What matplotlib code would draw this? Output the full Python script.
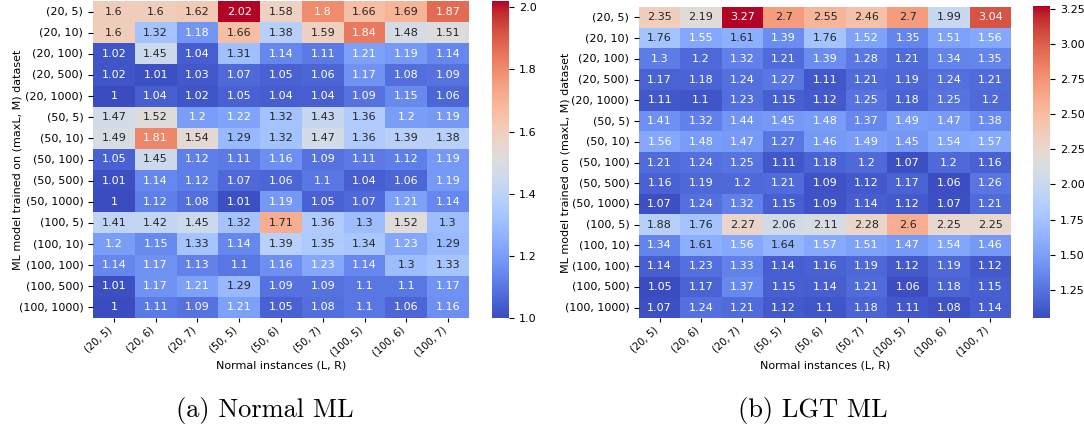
import matplotlib
matplotlib.use("Agg")
import matplotlib.pyplot as plt
import numpy as np
import seaborn as sns

row_labels = ["(20, 5)", "(20, 10)", "(20, 100)", "(20, 500)", "(20, 1000)",
              "(50, 5)", "(50, 10)", "(50, 100)", "(50, 500)", "(50, 1000)",
              "(100, 5)", "(100, 10)", "(100, 100)", "(100, 500)", "(100, 1000)"]
col_labels = ["(20, 5)", "(20, 6)", "(20, 7)", "(50, 5)", "(50, 6)", "(50, 7)",
              "(100, 5)", "(100, 6)", "(100, 7)"]

normal_ml = [
    [1.6, 1.6, 1.62, 2.02, 1.58, 1.8, 1.66, 1.69, 1.87],
    [1.6, 1.32, 1.18, 1.66, 1.38, 1.59, 1.84, 1.48, 1.51],
    [1.02, 1.45, 1.04, 1.31, 1.14, 1.11, 1.21, 1.19, 1.14],
    [1.02, 1.01, 1.03, 1.07, 1.05, 1.06, 1.17, 1.08, 1.09],
    [1.0, 1.04, 1.02, 1.05, 1.04, 1.04, 1.09, 1.15, 1.06],
    [1.47, 1.52, 1.2, 1.22, 1.32, 1.43, 1.36, 1.2, 1.19],
    [1.49, 1.81, 1.54, 1.29, 1.32, 1.47, 1.36, 1.39, 1.38],
    [1.05, 1.45, 1.12, 1.11, 1.16, 1.09, 1.11, 1.12, 1.19],
    [1.01, 1.14, 1.12, 1.07, 1.06, 1.1, 1.04, 1.06, 1.19],
    [1.0, 1.12, 1.08, 1.01, 1.19, 1.05, 1.07, 1.21, 1.14],
    [1.41, 1.42, 1.45, 1.32, 1.71, 1.36, 1.3, 1.52, 1.3],
    [1.2, 1.15, 1.33, 1.14, 1.39, 1.35, 1.34, 1.23, 1.29],
    [1.14, 1.17, 1.13, 1.1, 1.16, 1.23, 1.14, 1.3, 1.33],
    [1.01, 1.17, 1.21, 1.29, 1.09, 1.09, 1.1, 1.1, 1.17],
    [1.0, 1.11, 1.09, 1.21, 1.05, 1.08, 1.1, 1.06, 1.16],
]

lgt_ml = [
    [2.35, 2.19, 3.27, 2.7, 2.55, 2.46, 2.7, 1.99, 3.04],
    [1.76, 1.55, 1.61, 1.39, 1.76, 1.52, 1.35, 1.51, 1.56],
    [1.3, 1.2, 1.32, 1.21, 1.39, 1.28, 1.21, 1.34, 1.35],
    [1.17, 1.18, 1.24, 1.27, 1.11, 1.21, 1.19, 1.24, 1.21],
    [1.11, 1.1, 1.23, 1.15, 1.12, 1.25, 1.18, 1.25, 1.2],
    [1.41, 1.32, 1.44, 1.45, 1.48, 1.37, 1.49, 1.47, 1.38],
    [1.56, 1.48, 1.47, 1.27, 1.46, 1.49, 1.45, 1.54, 1.57],
    [1.21, 1.24, 1.25, 1.11, 1.18, 1.2, 1.07, 1.2, 1.16],
    [1.16, 1.19, 1.2, 1.21, 1.09, 1.12, 1.17, 1.06, 1.26],
    [1.07, 1.24, 1.32, 1.15, 1.09, 1.14, 1.12, 1.07, 1.21],
    [1.88, 1.76, 2.27, 2.06, 2.11, 2.28, 2.6, 2.25, 2.25],
    [1.34, 1.61, 1.56, 1.64, 1.57, 1.51, 1.47, 1.54, 1.46],
    [1.14, 1.23, 1.33, 1.14, 1.16, 1.19, 1.12, 1.19, 1.12],
    [1.05, 1.17, 1.37, 1.15, 1.14, 1.21, 1.06, 1.18, 1.15],
    [1.07, 1.24, 1.21, 1.12, 1.1, 1.18, 1.11, 1.08, 1.14],
]

captions = ["(a) Normal ML", "(b) LGT ML"]
xlabel = "Normal instances (L, R)"
ylabel = "ML model trained on (maxL, M) dataset"

W, H = 1084, 425
fig = plt.figure(figsize=(W / 100, H / 100), dpi=100)

def box(x0, y0, x1, y1):
    return [x0 / W, 1 - y1 / H, (x1 - x0) / W, (y1 - y0) / H]

# (heatmap pixel box, colorbar pixel box, caption centre x, ylabel right-edge x)
panels = [
    (normal_ml, (93, 1, 469, 318), box(492, 1, 509, 318), 265, 23),
    (lgt_ml, (639, 7, 1011, 318), box(1033, 6, 1050, 318), 813, 570),
]

for (data, px, cbbox, capx, ylx), cap in zip(panels, captions):
    x0, y0, x1, y1 = px
    ax = fig.add_axes(box(x0, y0, x1, y1))
    cax = fig.add_axes(cbbox)
    arr = np.array(data)
    sns.heatmap(arr, ax=ax, cbar_ax=cax, cmap="coolwarm", annot=True, fmt="g",
                annot_kws={"fontsize": 8},
                xticklabels=col_labels, yticklabels=row_labels)
    ax.tick_params(axis="y", labelsize=8)
    ax.tick_params(axis="x", labelsize=7.2, length=3, pad=2)
    ax.set_yticklabels(row_labels, rotation=0)
    ax.set_xticklabels(col_labels, rotation=42, ha="right")
    ax.set_xlabel(xlabel, fontsize=8)
    ax.set_ylabel(ylabel, fontsize=8)
    aw, ah = x1 - x0, y1 - y0
    ax.xaxis.set_label_coords(0.5, -(360 - y1) / ah)
    ax.yaxis.set_label_coords(-(x0 - ylx) / aw, 0.5)
    cax.tick_params(labelsize=8)
    fig.text(capx / W, 1 - 417 / H, cap, ha="center", va="baseline",
             fontsize=19, family="cmr10")

fig.savefig("out.png", dpi=100)
